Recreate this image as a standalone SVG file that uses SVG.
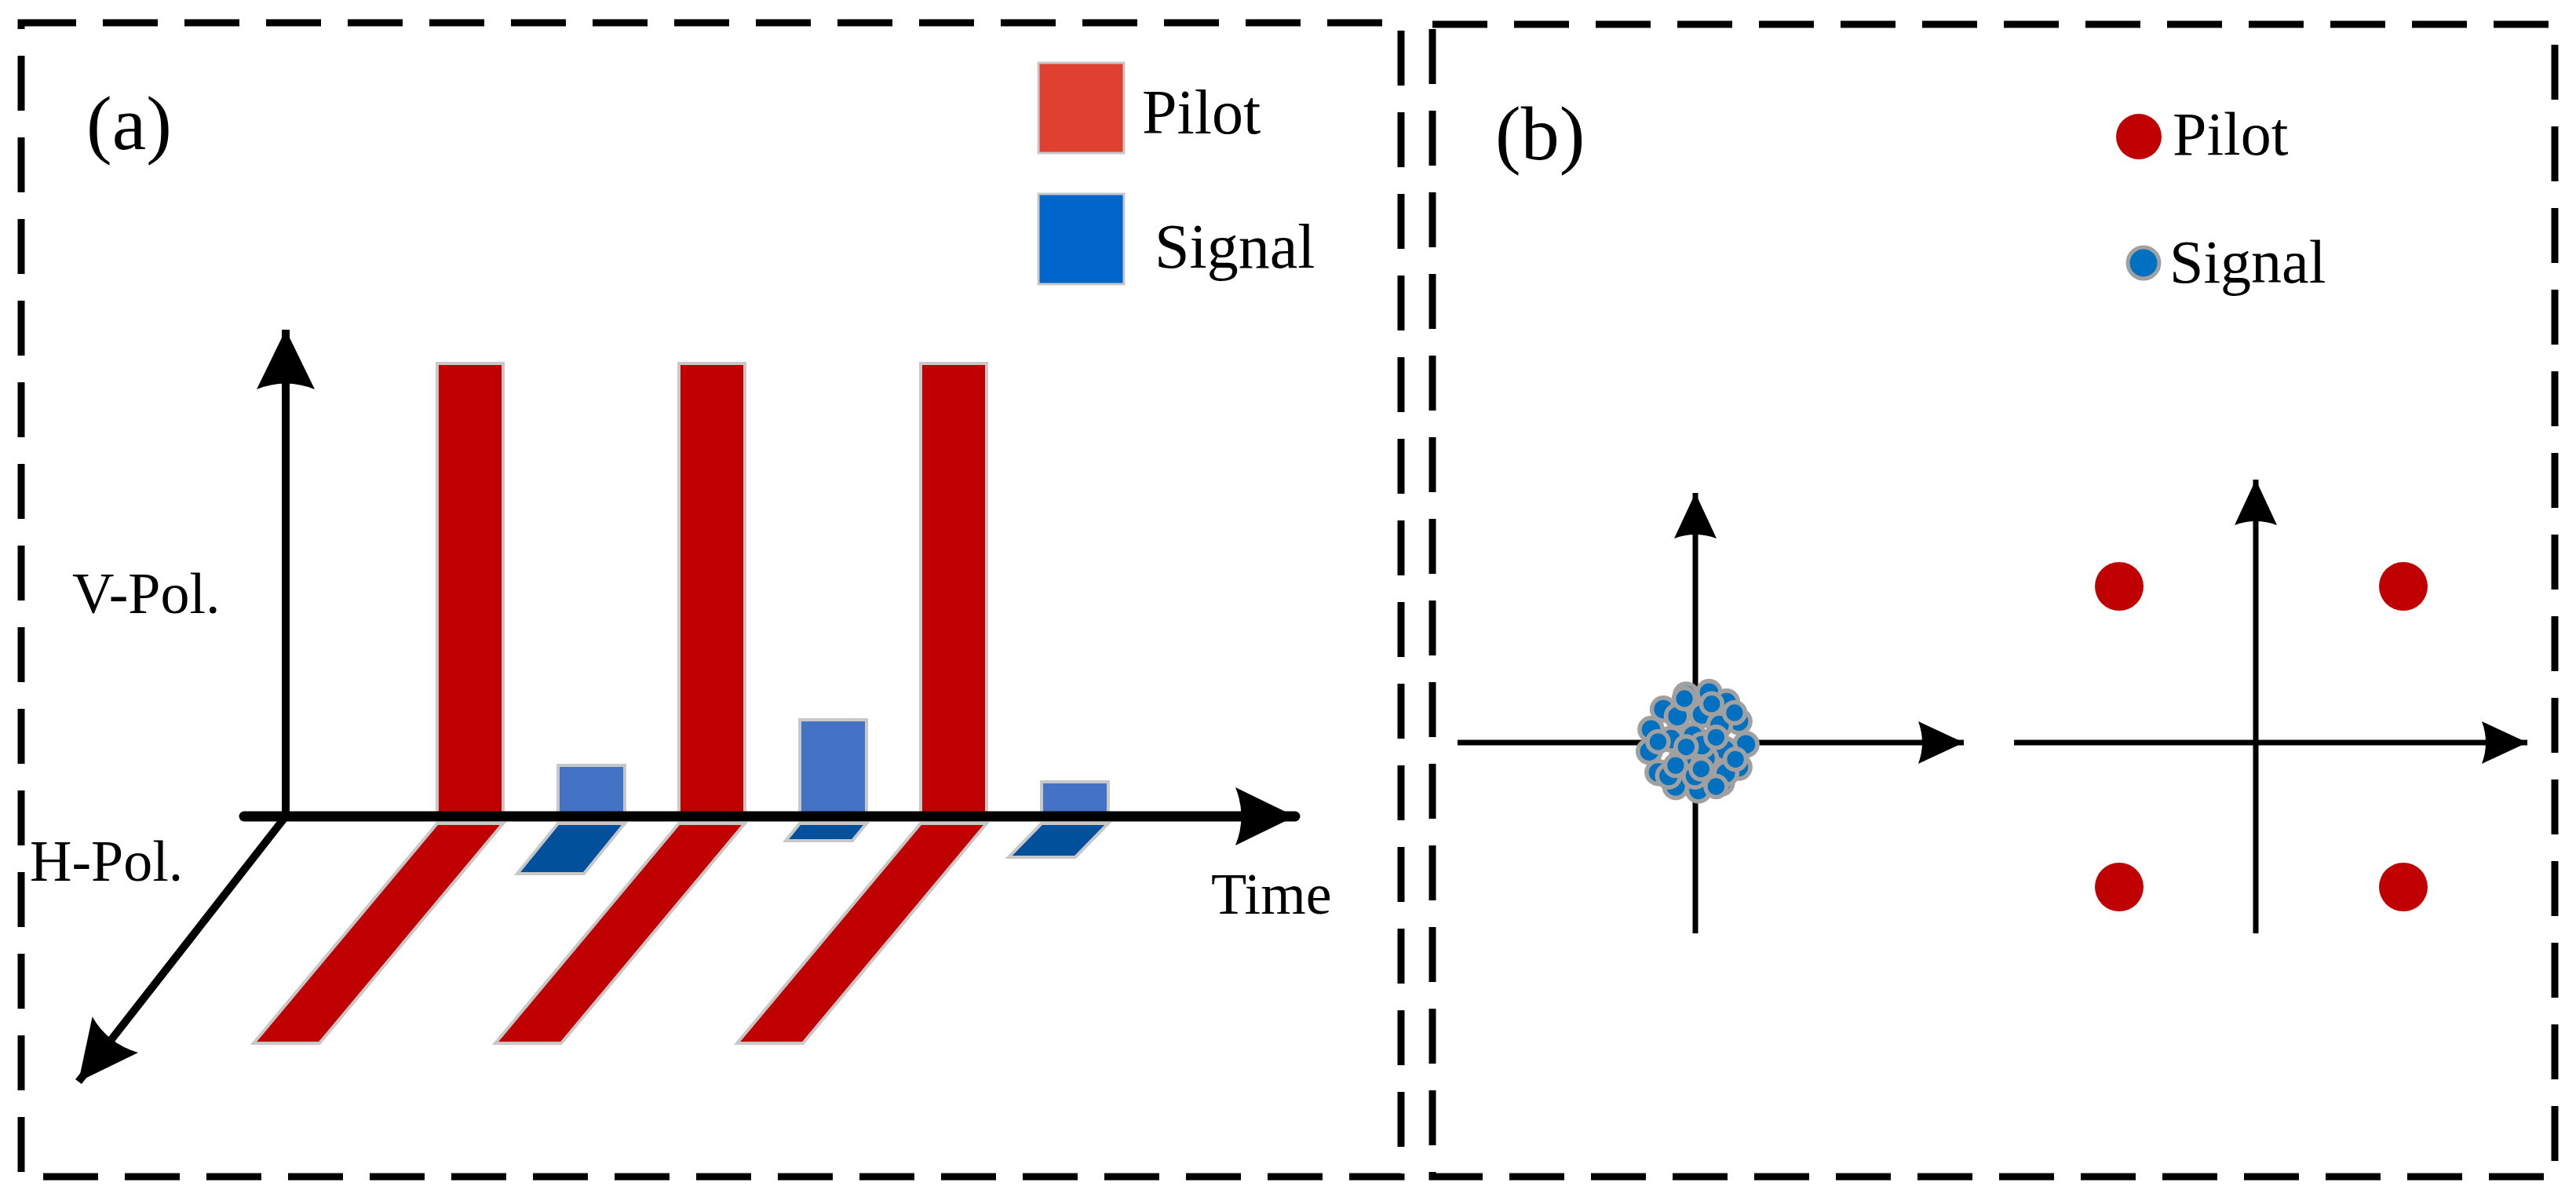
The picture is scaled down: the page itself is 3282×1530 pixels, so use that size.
<svg xmlns="http://www.w3.org/2000/svg" width="3282" height="1530" viewBox="0 0 3282 1530">
<style>
text{font-family:"Liberation Serif",serif;fill:#000}
.frame{fill:none;stroke:#000;stroke-width:9;stroke-dasharray:70 34}
.red{fill:#c00000;stroke:#c8c8c8;stroke-width:4}
.blue{fill:#4472c4;stroke:#c8c8c8;stroke-width:4}
.dblue{fill:#00509c;stroke:#c8c8c8;stroke-width:4}
.ax{stroke:#000;fill:none}
.sd{fill:#0070c0;stroke:#a0a0a0;stroke-width:5}
.pd{fill:#c00000}
</style>
<defs>
<marker id="ah" viewBox="0 0 20 20" refX="16" refY="10" markerWidth="20" markerHeight="20" markerUnits="userSpaceOnUse" orient="auto" overflow="visible">
<path d="M-60,-27 L16,10 L-60,47 Q-45,10 -60,-27 Z" fill="#000"/>
</marker>
<marker id="ahs" viewBox="0 0 20 20" refX="16" refY="10" markerWidth="20" markerHeight="20" markerUnits="userSpaceOnUse" orient="auto" overflow="visible">
<path d="M-42,-17 L16,10 L-42,37 Q-32,10 -42,-17 Z" fill="#000"/>
</marker>
</defs>
<rect class="frame" x="27" y="29" width="1758" height="1470"/>
<rect class="frame" x="1825" y="31" width="1430" height="1468"/>
<g id="panel-a">
<text x="110" y="190" font-size="98">(a)</text>
<rect x="1323" y="80" width="109" height="115" fill="#e04030" stroke="#c8c8c8" stroke-width="3"/>
<text x="1455" y="170" font-size="80">Pilot</text>
<rect x="1323" y="247" width="109" height="115" fill="#0066cc" stroke="#c8c8c8" stroke-width="3"/>
<text x="1471" y="341" font-size="80">Signal</text>
<text x="92" y="781" font-size="74">V-Pol.</text>
<text x="38" y="1122" font-size="74">H-Pol.</text>
<text x="1543" y="1164" font-size="74">Time</text>
</g>
<g id="bars">
<rect class="red" x="557" y="463" width="84" height="577"/>
<rect class="red" x="865" y="463" width="84" height="577"/>
<rect class="red" x="1173" y="463" width="84" height="577"/>
<path class="red" d="M557,1049 L641,1049 L407,1329 L323,1329 Z"/>
<path class="red" d="M865,1049 L949,1049 L715,1329 L631,1329 Z"/>
<path class="red" d="M1173,1049 L1257,1049 L1023,1329 L939,1329 Z"/>
<rect class="blue" x="711" y="975" width="85" height="65"/>
<rect class="blue" x="1019" y="917" width="85" height="123"/>
<rect class="blue" x="1327" y="996" width="85" height="44"/>
<path class="dblue" d="M711,1049 L796,1049 L744,1113 L659,1113 Z"/>
<path class="dblue" d="M1019,1049 L1104,1049 L1086,1071 L1001,1071 Z"/>
<path class="dblue" d="M1327,1049 L1412,1049 L1370,1092 L1285,1092 Z"/>
</g>
<g id="connectors">
<line class="ax" x1="364" y1="1040" x2="364" y2="420" stroke-width="10" marker-end="url(#ah)"/>
<line class="ax" x1="311" y1="1040" x2="1650" y2="1040" stroke-width="13" stroke-linecap="round" marker-end="url(#ah)"/>
<line class="ax" x1="364" y1="1040" x2="100" y2="1378" stroke-width="10" marker-end="url(#ah)"/>
<line class="ax" x1="2160" y1="1189" x2="2160" y2="628" stroke-width="7" marker-end="url(#ahs)"/>
<line class="ax" x1="1857" y1="946" x2="2502" y2="946" stroke-width="7" marker-end="url(#ahs)"/>
<line class="ax" x1="2874" y1="1189" x2="2874" y2="611" stroke-width="7" marker-end="url(#ahs)"/>
<line class="ax" x1="2566" y1="946" x2="3220" y2="946" stroke-width="7" marker-end="url(#ahs)"/>
</g>
<g id="panel-b">
<text x="1905" y="203" font-size="98">(b)</text>
<circle class="pd" cx="2725" cy="174" r="29"/>
<text x="2768" y="197" font-size="78">Pilot</text>
<circle class="sd" cx="2731" cy="335" r="20"/>
<text x="2764" y="360" font-size="78">Signal</text>
<circle class="pd" cx="2700" cy="747" r="31"/>
<circle class="pd" cx="3062" cy="747" r="31"/>
<circle class="pd" cx="2700" cy="1130" r="31"/>
<circle class="pd" cx="3062" cy="1130" r="31"/>
</g>
<g id="cluster" transform="translate(2164,946) scale(1.12) translate(-2164,-950)">
<circle class="sd" cx="2150" cy="896" r="13"/><circle class="sd" cx="2176" cy="893" r="13"/>
<circle class="sd" cx="2196" cy="904" r="13"/><circle class="sd" cx="2124" cy="912" r="13"/>
<circle class="sd" cx="2110" cy="935" r="13"/><circle class="sd" cx="2108" cy="960" r="13"/>
<circle class="sd" cx="2118" cy="984" r="13"/><circle class="sd" cx="2138" cy="1000" r="13"/>
<circle class="sd" cx="2164" cy="1004" r="13"/><circle class="sd" cx="2190" cy="996" r="13"/>
<circle class="sd" cx="2210" cy="978" r="13"/><circle class="sd" cx="2218" cy="952" r="13"/>
<circle class="sd" cx="2210" cy="926" r="13"/><circle class="sd" cx="2140" cy="920" r="13"/>
<circle class="sd" cx="2168" cy="918" r="13"/><circle class="sd" cx="2188" cy="930" r="13"/>
<circle class="sd" cx="2133" cy="946" r="13"/><circle class="sd" cx="2158" cy="942" r="13"/>
<circle class="sd" cx="2194" cy="958" r="13"/><circle class="sd" cx="2145" cy="968" r="13"/>
<circle class="sd" cx="2172" cy="968" r="13"/><circle class="sd" cx="2130" cy="988" r="13"/>
<circle class="sd" cx="2160" cy="988" r="13"/><circle class="sd" cx="2195" cy="985" r="13"/>
<circle class="sd" cx="2168" cy="953" r="13"/><circle class="sd" cx="2148" cy="900" r="12"/>
<circle class="sd" cx="2179" cy="906" r="12"/><circle class="sd" cx="2205" cy="916" r="12"/>
<circle class="sd" cx="2118" cy="949" r="12"/><circle class="sd" cx="2150" cy="955" r="12"/>
<circle class="sd" cx="2184" cy="944" r="12"/><circle class="sd" cx="2206" cy="969" r="12"/>
<circle class="sd" cx="2138" cy="976" r="12"/><circle class="sd" cx="2167" cy="980" r="12"/>
<circle class="sd" cx="2184" cy="1000" r="12"/>
</g>
</svg>
